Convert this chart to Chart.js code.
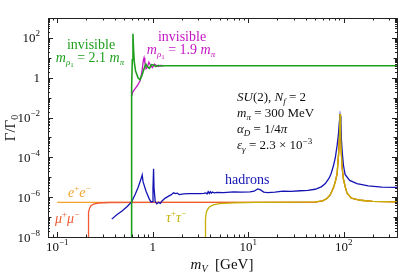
<!DOCTYPE html>
<html>
<head>
<meta charset="utf-8">
<script src="https://cdn.jsdelivr.net/npm/chart.js@4.4.0/dist/chart.umd.min.js"></script>
<style>
html, body { margin: 0; padding: 0; background: #fff; }
</style>
</head>
<body>
<canvas id="chart" width="401" height="277"></canvas>
<script>
// values (m_V in GeV, Gamma/Gamma_0)
const zMass = [60, 66.5, 72, 78.5, 82, 85, 88.5, 90.2, 91.2, 92.2, 94, 96, 99, 103, 108, 120, 149, 200, 360];
const zRate = [6.5e-7, 8.6e-7, 1.3e-6, 3.3e-6, 7e-6, 1.5e-5, 2e-4, 2e-3, 1.5e-2, 2e-3, 2e-4, 3e-5, 8e-6, 3.5e-6, 1.6e-6, 9e-7, 7e-7, 6.2e-7, 5.8e-7];

const eeMass = [0.1, 1, 10, 50].concat(zMass);
const eeRate = [5.5e-7, 5.5e-7, 5.5e-7, 5.7e-7].concat(zRate);

const muMass = [0.2114, 0.2115, 0.212, 0.214, 0.218, 0.225, 0.24, 0.27, 0.35, 1, 10, 50].concat(zMass);
const muRate = [1e-9, 2e-8, 8e-8, 1.8e-7, 2.8e-7, 3.7e-7, 4.5e-7, 5.1e-7, 5.4e-7, 5.5e-7, 5.5e-7, 5.7e-7].concat(zRate);

const tauMass = [3.554, 3.556, 3.57, 3.62, 3.7, 3.9, 4.3, 5, 7, 12, 30, 50].concat(zMass);
const tauRate = [1e-9, 2e-8, 8e-8, 1.6e-7, 2.2e-7, 3.2e-7, 4.1e-7, 4.7e-7, 5.2e-7, 5.5e-7, 5.6e-7, 5.8e-7].concat(zRate);

const hadMass = [0.372, 0.42, 0.48, 0.54, 0.6, 0.65, 0.7, 0.74, 0.765, 0.775, 0.79, 0.85, 0.92, 0.96, 0.99, 1.005, 1.019, 1.03, 1.06,
  1.1, 1.15, 1.2, 1.25, 1.35, 1.45, 1.55, 1.65, 1.72, 1.8, 1.9, 2.1, 2.4, 2.8, 3.1, 3.4, 3.6, 3.7, 3.8, 3.9, 4.0, 4.1, 4.2, 4.4,
  4.7, 5.5, 7, 8.5, 10.4, 11.5, 12.5, 13.3, 14.5, 16, 19, 23, 28, 35, 42, 50, 58, 64, 70, 73.5, 78, 81.5, 85, 87.6, 89.5, 91.2,
  93, 94, 96, 99, 103, 115, 137, 180, 250, 360];
const hadRate = [7.9e-8, 1.3e-7, 2.1e-7, 3.4e-7, 5.8e-7, 1.3e-6, 3e-6, 6.5e-6, 1.05e-5, 1.3e-5, 6e-6, 2e-6, 8e-7, 5.8e-7, 6e-7, 3e-6, 2.7e-5, 3e-6, 6e-7,
  4.6e-7, 5.5e-7, 4.9e-7, 6.5e-7, 9e-7, 1.1e-6, 1.3e-6, 1.65e-6, 1.5e-6, 1.6e-6, 1.35e-6, 1.45e-6, 1.5e-6, 1.5e-6, 1.5e-6, 1.55e-6, 1.65e-6, 1.45e-6, 1.9e-6, 1.55e-6, 1.9e-6, 1.6e-6, 1.8e-6, 1.65e-6,
  1.75e-6, 1.7e-6, 1.85e-6, 1.8e-6, 1.85e-6, 2.0e-6, 2.6e-6, 2.4e-6, 1.8e-6, 1.7e-6, 1.8e-6, 2.0e-6, 1.95e-6, 2.1e-6, 2.2e-6, 2.5e-6, 3.3e-6, 4.8e-6, 9e-6, 1.5e-5, 4e-5, 1e-4, 4e-4, 1.3e-3, 5e-3, 1.2e-2,
  5e-3, 1e-3, 2e-4, 4e-5, 1.4e-5, 7e-6, 4.8e-6, 3.7e-6, 3.2e-6, 3.1e-6];

const inv21Mass = [0.6, 0.6005, 0.61, 0.62, 0.628, 0.64, 0.66, 0.7, 0.735, 0.77, 0.81, 0.845, 0.88, 0.92, 0.97, 1.03, 1.08, 1.14, 1.2, 1.3, 360];
const inv21Rate = [1e-9, 0.3, 8, 160, 30, 6, 2.2, 1.0, 0.8, 1.3, 2.8, 4.8, 3.5, 3.0, 4.5, 4.2, 3.6, 4.2, 3.9, 4.0, 4.0];

const inv19Mass = [0.601, 0.62, 0.66, 0.7, 0.74, 0.77, 0.795, 0.81, 0.825, 0.85, 0.875, 0.91, 0.95, 0.99, 1.04, 1.1, 1.15, 1.2, 1.3];
const inv19Rate = [0.12, 0.2, 0.3, 0.45, 0.75, 2, 7, 10, 6, 2.8, 3.3, 6, 4, 3.2, 4.8, 4.0, 3.7, 4.2, 4.0];

const xTickVals = [0.1, 1, 10, 100];
const xTickLabels = [['10', '\u22121'], ['1', ''], ['10', '1'], ['10', '2']];
const yTickVals = [1e2, 1, 1e-2, 1e-4, 1e-6, 1e-8];
const yTickLabels = [['10', '2'], ['1', ''], ['10', '\u22122'], ['10', '\u22124'], ['10', '\u22126'], ['10', '\u22128']];

const SERIF = '"Liberation Serif", "DejaVu Serif", serif';
const GREEN = '#1ea01e', MAGENTA = '#c414c4', BLUE = '#1414b4', ORANGE = '#f2a02a', RED = '#f05a34', OLIVE = '#c4b000';

function pts(xs, ys) {
  return xs.map((v, i) => ({ x: v, y: ys[i] }));
}

function font(p) {
  return (p[1] ? 'italic ' : '') + p[2] + 'px ' + SERIF;
}

// parts: [text, italic, size, dy]
function rich(ctx, x, y, parts, align) {
  let w = 0;
  parts.forEach(p => { ctx.font = font(p); w += ctx.measureText(p[0]).width; });
  let cx = align === 'center' ? x - w / 2 : align === 'right' ? x - w : x;
  parts.forEach(p => {
    ctx.font = font(p);
    ctx.fillText(p[0], cx, y + (p[3] || 0));
    cx += ctx.measureText(p[0]).width;
  });
}

const frame = {
  id: 'frame',
  afterDatasetsDraw(chart) {
    const { ctx, chartArea: a, scales: { x, y } } = chart;
    ctx.save();
    ctx.strokeStyle = '#222';
    ctx.lineWidth = 1;
    ctx.beginPath();
    // x ticks, inward, top and bottom
    for (let d = -2; d <= 3; d++) {
      for (let k = 1; k <= 9; k++) {
        const v = k * Math.pow(10, d);
        if (v < x.min || v > x.max) continue;
        const px = Math.round(x.getPixelForValue(v)) + 0.5;
        const len = k === 1 ? 5 : 2.5;
        ctx.moveTo(px, a.bottom); ctx.lineTo(px, a.bottom - len);
        ctx.moveTo(px, a.top); ctx.lineTo(px, a.top + len);
      }
    }
    for (let d = -9; d <= 3; d++) {
      for (let k = 1; k <= 9; k++) {
        const v = k * Math.pow(10, d);
        if (v < y.min || v > y.max) continue;
        const py = Math.round(y.getPixelForValue(v)) + 0.5;
        const len = k === 1 ? (d % 2 === 0 ? 5 : 3.5) : 2;
        ctx.moveTo(a.left, py); ctx.lineTo(a.left + len, py);
        ctx.moveTo(a.right, py); ctx.lineTo(a.right - len, py);
      }
    }
    ctx.stroke();
    ctx.strokeRect(Math.round(a.left) + 0.5, Math.round(a.top) + 0.5, Math.round(a.right - a.left), Math.round(a.bottom - a.top));

    ctx.fillStyle = '#111';
    ctx.textBaseline = 'alphabetic';
    xTickVals.forEach((v, i) => {
      const lab = xTickLabels[i];
      rich(ctx, x.getPixelForValue(v), a.bottom + 14, [[lab[0], false, 13, 0], [lab[1], false, 9, -6]], 'center');
    });
    yTickVals.forEach((v, i) => {
      const lab = yTickLabels[i];
      rich(ctx, a.left - 8, y.getPixelForValue(v) + 4.5, [[lab[0], false, 13, 0], [lab[1], false, 9, -6]], 'right');
    });

    // axis titles
    rich(ctx, 222, 269, [['m', true, 15, 0], ['V', true, 10, 3], ['  [GeV]', false, 15, 0]], 'center');
    ctx.save();
    ctx.translate(15, 128);
    ctx.rotate(-Math.PI / 2);
    rich(ctx, 0, 0, [['\u0393/\u0393', false, 15, 0], ['0', false, 10, 3]], 'center');
    ctx.restore();

    // curve labels
    ctx.fillStyle = GREEN;
    rich(ctx, 91, 49, [['invisible', false, 14, 0]], 'center');
    rich(ctx, 90, 62, [['m', true, 14, 0], ['\u03c1', true, 9, 3], ['1', false, 7, 5], [' = 2.1 ', false, 14, 0], ['m', true, 14, 0], ['\u03c0', true, 9, 3]], 'center');
    ctx.fillStyle = MAGENTA;
    rich(ctx, 182, 41, [['invisible', false, 14, 0]], 'center');
    rich(ctx, 181, 54, [['m', true, 14, 0], ['\u03c1', true, 9, 3], ['1', false, 7, 5], [' = 1.9 ', false, 14, 0], ['m', true, 14, 0], ['\u03c0', true, 9, 3]], 'center');
    ctx.fillStyle = BLUE;
    rich(ctx, 225, 184, [['hadrons', false, 14, 0]], 'left');
    ctx.fillStyle = ORANGE;
    rich(ctx, 68, 197, [['e', true, 14, 0], ['+', false, 9, -6], ['e', true, 14, 0], ['\u2212', false, 9, -6]], 'left');
    ctx.fillStyle = RED;
    rich(ctx, 55, 223, [['\u03bc', true, 14, 0], ['+', false, 9, -6], ['\u03bc', true, 14, 0], ['\u2212', false, 9, -6]], 'left');
    ctx.fillStyle = OLIVE;
    rich(ctx, 166, 222, [['\u03c4', true, 14, 0], ['+', false, 9, -6], ['\u03c4', true, 14, 0], ['\u2212', false, 9, -6]], 'left');

    // parameter block
    ctx.fillStyle = '#111';
    rich(ctx, 237, 101, [['SU', true, 13, 0], ['(2), ', false, 13, 0], ['N', true, 13, 0], ['f', true, 9, 3], [' = 2', false, 13, 0]], 'left');
    rich(ctx, 237, 117, [['m', true, 13, 0], ['\u03c0', true, 9, 3], [' = 300 MeV', false, 13, 0]], 'left');
    rich(ctx, 237, 133, [['\u03b1', true, 13, 0], ['D', true, 9, 3], [' = 1/4', false, 13, 0], ['\u03c0', true, 13, 0]], 'left');
    rich(ctx, 237, 149, [['\u03b5', true, 13, 0], ['\u03b3', true, 9, 3], [' = 2.3 \u00d7 10', false, 13, 0], ['\u22123', false, 9, -5]], 'left');
    ctx.restore();
  }
};

function line(data, color, width) {
  return { data, borderColor: color, borderWidth: width || 1.3, pointRadius: 0, tension: 0, fill: false };
}

new Chart(document.getElementById('chart'), {
  type: 'line',
  data: {
    datasets: [
      line(pts(inv21Mass, inv21Rate), GREEN, 1.6),
      line(pts(inv19Mass, inv19Rate), MAGENTA),
      line(pts(tauMass, tauRate), OLIVE),
      line(pts(hadMass, hadRate), BLUE),
      line(pts(muMass, muRate), RED),
      line(pts(eeMass, eeRate), ORANGE)
    ]
  },
  options: {
    responsive: false,
    animation: false,
    devicePixelRatio: 1,
    layout: { padding: { left: 48, right: 4, top: 18, bottom: 40 } },
    plugins: { legend: { display: false }, tooltip: { enabled: false } },
    scales: {
      x: { type: 'logarithmic', min: 0.08, max: 360, display: false },
      y: { type: 'logarithmic', min: 1e-8, max: 1e3, display: false }
    }
  },
  plugins: [frame]
});
</script>
</body>
</html>
